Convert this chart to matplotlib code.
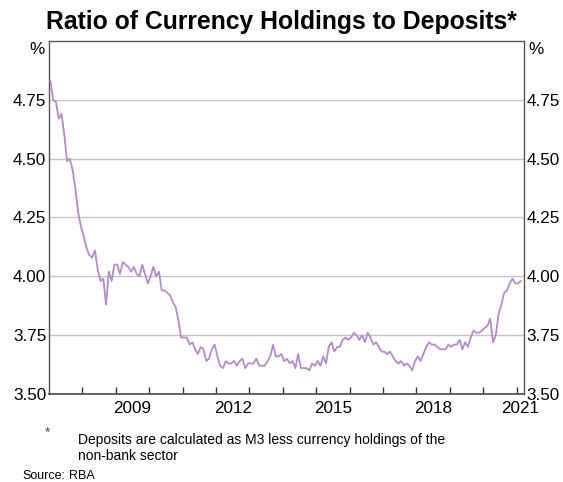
import numpy as np
import pandas as pd
import matplotlib
matplotlib.use("Agg")
import matplotlib.pyplot as plt

# monthly ratio of currency holdings to deposits, Jan 2007 onwards (%)
start = "2007-01"
ratio = [4.83, 4.75, 4.74, 4.67, 4.69, 4.60, 4.49, 4.50, 4.45, 4.37,
         4.27, 4.21, 4.17, 4.12, 4.09, 4.08, 4.11, 4.03, 3.98, 3.99,
         3.88, 4.02, 3.98, 4.05, 4.05, 4.01, 4.06, 4.05, 4.04, 4.02,
         4.04, 4.01, 4.00, 4.05, 4.01, 3.97, 4.00, 4.04, 4.00, 4.02,
         3.94, 3.94, 3.93, 3.92, 3.89, 3.87, 3.81, 3.74, 3.74, 3.74,
         3.71, 3.72, 3.69, 3.67, 3.70, 3.69, 3.64, 3.65, 3.69, 3.71,
         3.66, 3.62, 3.61, 3.64, 3.63, 3.63, 3.64, 3.62, 3.64, 3.65,
         3.61, 3.63, 3.63, 3.63, 3.65, 3.62, 3.62, 3.62, 3.64, 3.66,
         3.71, 3.66, 3.66, 3.67, 3.64, 3.65, 3.63, 3.64, 3.61, 3.67,
         3.61, 3.61, 3.61, 3.60, 3.63, 3.62, 3.64, 3.62, 3.66, 3.63,
         3.70, 3.72, 3.68, 3.70, 3.70, 3.73, 3.74, 3.73, 3.74, 3.76,
         3.75, 3.73, 3.75, 3.72, 3.76, 3.74, 3.71, 3.72, 3.70, 3.68,
         3.68, 3.67, 3.68, 3.66, 3.64, 3.63, 3.64, 3.62, 3.63, 3.62,
         3.60, 3.64, 3.66, 3.64, 3.67, 3.70, 3.72, 3.71, 3.71, 3.70,
         3.69, 3.69, 3.69, 3.71, 3.70, 3.71, 3.71, 3.73, 3.69, 3.72,
         3.70, 3.74, 3.77, 3.76, 3.76, 3.77, 3.78, 3.79, 3.82, 3.72,
         3.75, 3.84, 3.88, 3.93, 3.94, 3.97, 3.99, 3.97, 3.97, 3.98]

year_labels = [2009, 2012, 2015, 2018, 2021]
yticks = [3.50, 3.75, 4.00, 4.25, 4.50, 4.75]

dates = pd.date_range(start, periods=len(ratio), freq="MS")
t = dates.year + (dates.month - 0.5) / 12

plt.rcParams["font.family"] = ["Liberation Sans", "DejaVu Sans"]
fig = plt.figure(figsize=(5.63, 4.82), dpi=100)
ax = fig.add_axes([49 / 563, 88 / 482, 475 / 563, 353 / 482])

ax.plot(t, ratio, color="#B48CC8", lw=1.3, zorder=3)

ax.set_xlim(2007, 2021.22)
ax.set_ylim(3.5, 5.0)
for y in yticks[1:]:
    ax.axhline(y, color="#C4C4C4", lw=1.0, zorder=1)

ax.set_yticks(yticks)
ax.set_yticklabels(["%.2f" % v for v in yticks])
ax.tick_params(axis="y", length=0, labelsize=12.3, pad=2,
               labelleft=True, labelright=True)

ax.set_xticks(np.arange(2008, 2022))
ax.set_xticklabels([])
ax.set_xticks([y + 0.5 for y in year_labels[:-1]] + [2021.1], minor=True)
ax.set_xticklabels([str(y) for y in year_labels], minor=True)
ax.tick_params(axis="x", which="major", direction="in", length=5, width=1, color="#333333")
ax.tick_params(axis="x", which="minor", length=0, labelsize=12.3, pad=5)

for s in ["left", "right", "top"]:
    ax.spines[s].set_color("#555555")
    ax.spines[s].set_linewidth(1.0)
ax.spines["bottom"].set_color("#555555")
ax.spines["bottom"].set_linewidth(1.3)

fig.text(29 / 563, 1 - 49 / 482, "%", fontsize=12.3, ha="left", va="center")
fig.text(528 / 563, 1 - 49 / 482, "%", fontsize=12.3, ha="left", va="center")

fig.text(281 / 563, 1 - 22 / 482, "Ratio of Currency Holdings to Deposits*",
         fontsize=17.8, fontweight="bold", ha="center", va="center")

fig.text(45 / 563, 1 - 433 / 482, "*", fontsize=10, ha="left", va="center", color="#555555")
fig.text(78 / 563, 1 - 440 / 482, "Deposits are calculated as M3 less currency holdings of the",
         fontsize=10, ha="left", va="center")
fig.text(78 / 563, 1 - 456 / 482, "non-bank sector", fontsize=10, ha="left", va="center")
fig.text(22 / 563, 1 - 476 / 482, "Source:", fontsize=9, ha="left", va="center")
fig.text(69 / 563, 1 - 476 / 482, "RBA", fontsize=9, ha="left", va="center")

fig.savefig("out.png", dpi=100)
